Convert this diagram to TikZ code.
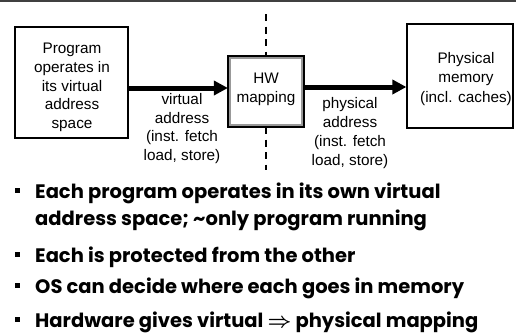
\documentclass[tikz,border=0pt]{standalone}
\usepackage{fontspec}
\setmainfont{Liberation Sans}
\newfontfamily\bulletfont{Poppins}[UprightFont=* Bold]
\usetikzlibrary{arrows.meta}
\tikzset{
  box/.style={draw=black, line width=1.2pt, inner sep=0pt},
  lbl/.style={align=center, font=\fontsize{15.3}{18.8}\selectfont, inner sep=0pt},
  bigarrow/.style={line width=5pt, -{Triangle[length=14pt,width=14pt]}},
  divider/.style={line width=1.3pt, dash pattern=on 7pt off 5.5pt},
  btext/.style={anchor=base west, inner sep=0pt, font=\bulletfont\fontsize{19.5}{22}\selectfont},
  bsq/.style={fill=black, minimum size=5pt, inner sep=0pt}
}
\begin{document}
\begin{tikzpicture}[x=1pt,y=-1pt]
\useasboundingbox (0,0) rectangle (516,335);
\fill[white] (0,0) rectangle (516,335);
% top rule
\draw[line width=1.6pt, black!75] (0,1) -- (516,1);
% boxes
\node[box, minimum width=113pt, minimum height=111pt] (prog) at (71.5,82.5) {};
\node[lbl] (progtxt) at (72,87.5) {Program\\operates in\\its virtual\\address\\space};
\node[draw=black!40, line width=3.2pt, minimum width=73pt, minimum height=68pt, inner sep=0pt] (hw) at (266,91.5) {};
\draw[black, line width=1.4pt] (hw.north west) rectangle (hw.south east);
\node[lbl] (hwtxt) at (266,89) {HW\\mapping};
\node[box, minimum width=106pt, minimum height=104pt] (mem) at (460,76) {};
\node[lbl, font=\fontsize{15.3}{19.8}\selectfont] (memtxt) at (466,79) {Physical\\memory\\(incl. caches)};
% arrows
\coordinate (a1s) at ([yshift=-5.5pt]prog.east);
\coordinate (a2s) at ([yshift=4.5pt]hw.east);
\draw[bigarrow] (a1s) -- (hw.west |- a1s);
\draw[bigarrow] (a2s) -- (mem.west |- a2s);
% labels
\node[lbl] (vlbl) at (182,128.5) {virtual\\address\\(inst. fetch\\load, store)};
\node[lbl] (plbl) at (350,133) {physical\\address\\(inst. fetch\\load, store)};
% dashed divider
\coordinate (dtop) at (266,14);
\coordinate (dbot) at (266,170);
\draw[divider] (dtop) -- (hw.north);
\draw[divider] (hw.south) -- (dbot);
% bullets
\node[bsq] (b1) at (17.5,190.5) {};
\node[btext] (t1) at (35,198) {Each program operates in its own virtual};
\node[btext] (t1b) at (35,225) {address space; \char"007E only program running};
\node[bsq] (b2) at (17.5,254.5) {};
\node[btext] (t2) at (35,262) {Each is protected from the other};
\node[bsq] (b3) at (17.5,285.5) {};
\node[btext] (t3) at (35,293) {OS can decide where each goes in memory};
\node[bsq] (b4) at (17.5,319.5) {};
\node[btext] (t4) at (35,327) {Hardware gives virtual {\boldmath$\Rightarrow$} physical mapping};
\end{tikzpicture}
\end{document}
